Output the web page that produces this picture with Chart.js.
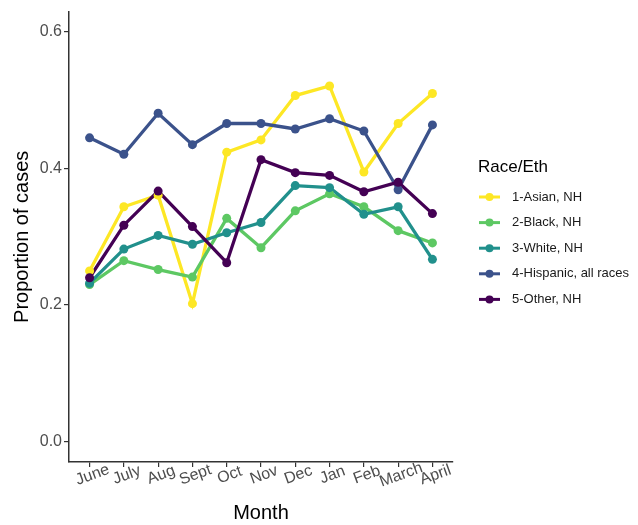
<!DOCTYPE html>
<html>
<head>
<meta charset="utf-8">
<script src="https://cdn.jsdelivr.net/npm/chart.js@4/dist/chart.umd.min.js"></script>
<style>
  html, body { margin: 0; padding: 0; background: #fff; }
  #wrap { width: 638px; height: 525px; }
</style>
</head>
<body>
<div id="wrap"><canvas id="chart" width="638" height="525"></canvas></div>
<script>
// values
const months = ['June', 'July', 'Aug', 'Sept', 'Oct', 'Nov', 'Dec', 'Jan', 'Feb', 'March', 'April'];
const groups = ['1-Asian, NH', '2-Black, NH', '3-White, NH', '4-Hispanic, all races', '5-Other, NH'];
const asian = [0.250, 0.344, 0.361, 0.202, 0.424, 0.442, 0.507, 0.521, 0.395, 0.466, 0.510];
const black = [0.230, 0.265, 0.252, 0.241, 0.327, 0.284, 0.338, 0.363, 0.344, 0.309, 0.291];
const white = [0.232, 0.282, 0.302, 0.289, 0.306, 0.321, 0.375, 0.372, 0.333, 0.344, 0.267];
const hispanic = [0.445, 0.421, 0.481, 0.435, 0.466, 0.466, 0.458, 0.473, 0.455, 0.369, 0.464];
const other = [0.240, 0.317, 0.367, 0.315, 0.262, 0.413, 0.394, 0.390, 0.366, 0.380, 0.334];
const yTicks = [0, 0.2, 0.4, 0.6];

const colors = ['#FDE725', '#5DC863', '#21908C', '#3B528B', '#440154'];
const series = [asian, black, white, hispanic, other];
const FONT = "'Liberation Sans', Arial, sans-serif";

const toPoints = vals => vals.map((v, i) => ({ x: i, y: v }));

// lines first, points on top of every line (like geom_line + geom_point)
const datasets = [];
series.forEach((vals, k) => {
    datasets.push({
        label: groups[k],
        data: toPoints(vals),
        borderColor: colors[k],
        borderWidth: 3.3,
        pointRadius: 0,
        fill: false,
        tension: 0,
        order: 20 - k,
    });
});
series.forEach((vals, k) => {
    datasets.push({
        label: groups[k] + ' pts',
        data: toPoints(vals),
        showLine: false,
        pointRadius: 4.5,
        pointBorderWidth: 0,
        pointBackgroundColor: colors[k],
        pointBorderColor: colors[k],
        order: 10 - k,
    });
});

const monthLabels = {
    id: 'monthLabels',
    afterDraw(chart) {
        const ctx = chart.ctx;
        const xs = chart.scales.x;
        ctx.save();
        ctx.font = '16px ' + FONT;
        ctx.fillStyle = '#4D4D4D';
        ctx.textAlign = 'center';
        ctx.textBaseline = 'middle';
        months.forEach((m, i) => {
            const x = xs.getPixelForValue(i);
            ctx.save();
            ctx.translate(x + 3, 475);
            ctx.rotate(-20 * Math.PI / 180);
            ctx.fillText(m, 0, 0);
            ctx.restore();
        });
        ctx.restore();
    }
};

const sideLegend = {
    id: 'sideLegend',
    afterDraw(chart) {
        const ctx = chart.ctx;
        ctx.save();
        ctx.fillStyle = '#000';
        ctx.textAlign = 'left';
        ctx.textBaseline = 'middle';
        ctx.font = '17px ' + FONT;
        ctx.fillText('Race/Eth', 478, 167);
        ctx.font = '13px ' + FONT;
        groups.forEach((g, k) => {
            const y = 197 + k * 25.6;
            ctx.strokeStyle = colors[k];
            ctx.lineWidth = 3;
            ctx.beginPath();
            ctx.moveTo(479, y);
            ctx.lineTo(500, y);
            ctx.stroke();
            ctx.fillStyle = colors[k];
            ctx.beginPath();
            ctx.arc(489.5, y, 4, 0, Math.PI * 2);
            ctx.fill();
            ctx.fillStyle = '#1A1A1A';
            ctx.fillText(g, 512, y);
        });
        ctx.restore();
    }
};

new Chart(document.getElementById('chart').getContext('2d'), {
    type: 'line',
    data: { datasets: datasets },
    options: {
        responsive: false,
        animation: false,
        events: [],
        layout: { padding: { left: 0, top: 6.5, right: 185, bottom: 0 } },
        plugins: {
            legend: { display: false },
            tooltip: { enabled: false },
        },
        scales: {
            x: {
                type: 'linear',
                min: -0.6,
                max: months.length - 1 + 0.6,
                afterBuildTicks: s => { s.ticks = months.map((m, i) => ({ value: i })); },
                afterFit: s => { s.height = 63; },
                ticks: { display: false },
                grid: { drawOnChartArea: false, drawTicks: true, tickLength: 5, color: '#333', lineWidth: 1.2 },
                border: { color: '#333', width: 1.5 },
                title: {
                    display: true,
                    text: 'Month',
                    color: '#000',
                    font: { family: FONT, size: 20 },
                    padding: { top: 0, bottom: 0 },
                },
            },
            y: {
                min: -0.03,
                max: 0.63,
                afterBuildTicks: s => { s.ticks = yTicks.map(v => ({ value: v })); },
                afterFit: s => { s.width = 69; },
                ticks: {
                    color: '#4D4D4D',
                    font: { family: FONT, size: 16 },
                    padding: 2,
                    callback: v => v.toFixed(1),
                },
                grid: { drawOnChartArea: false, drawTicks: true, tickLength: 5, color: '#333', lineWidth: 1.2 },
                border: { color: '#333', width: 1.5 },
                title: {
                    display: true,
                    text: 'Proportion of cases',
                    color: '#000',
                    font: { family: FONT, size: 20 },
                    padding: { top: 10, bottom: 0 },
                },
            },
        },
    },
    plugins: [monthLabels, sideLegend],
});
</script>
</body>
</html>
